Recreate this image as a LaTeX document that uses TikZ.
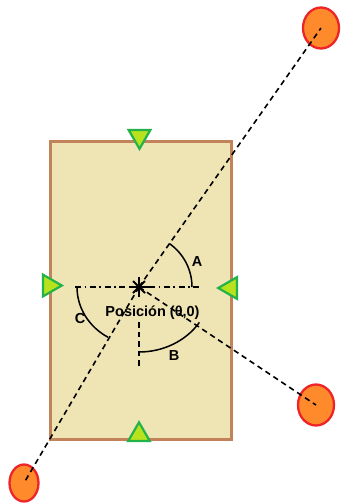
\documentclass[tikz,border=0pt]{standalone}
\usepackage{fontspec}
\setmainfont{Liberation Sans}
\usetikzlibrary{shapes.geometric}
\definecolor{boxfill}{HTML}{EFE4B4}
\definecolor{boxline}{HTML}{C2825A}
\definecolor{ballfill}{HTML}{FF8A2C}
\definecolor{ballline}{HTML}{EE2428}
\definecolor{trifill}{HTML}{B8E21C}
\definecolor{triline}{HTML}{24B24A}
\tikzset{
  ball/.style={ellipse, draw=ballline, fill=ballfill, line width=2.3pt, inner sep=0pt},
  marker/.style={regular polygon, regular polygon sides=3, draw=triline, fill=trifill,
    line width=2.2pt, minimum size=25pt, inner sep=0pt},
  dline/.style={black, line width=1.6pt, dash pattern=on 5.5pt off 4pt},
  ddline/.style={black, line width=1.6pt, dash pattern=on 6pt off 3.5pt on 1.8pt off 3.5pt},
  anglearc/.style={black, line width=1.5pt},
  lbl/.style={font=\bfseries\fontsize{14.5}{16}\selectfont, inner sep=0pt}
}
\begin{document}
\begin{tikzpicture}[x=1pt,y=1pt]
\useasboundingbox (0,0) rectangle (340,-503);
% field
\node[draw=boxline, fill=boxfill, line width=2.5pt, minimum width=181pt, minimum height=298pt,
  inner sep=0pt, anchor=north west] (field) at (49,-140) {};
% markers
\node[marker, shape border rotate=180] (mtop) at (139.5,-136.3) {};
\node[marker] (mbot) at (139,-434.8) {};
\node[marker, shape border rotate=-90] (mleft) at (49.3,-285.5) {};
\node[marker, shape border rotate=90] (mright) at (230.7,-288) {};
% balls
\node[ball, minimum width=36pt, minimum height=41pt] (b1) at (321,-28) {};
\node[ball, minimum width=36pt, minimum height=41pt] (b2) at (316,-405) {};
\node[ball, minimum width=29pt, minimum height=37pt] (b3) at (24,-483) {};
% center
\coordinate (c) at (139,-287);
\coordinate (hl) at (75,-287);
\coordinate (hr) at (200,-287);
\coordinate (vt) at (139,-322);
\coordinate (vb) at (139,-369);
% lines
\draw[dline] (c) -- (b1.center);
\draw[dline] (c) -- (b2.center);
\draw[dline] (c) -- (b3.center);
\draw[ddline] (hl) -- (hr);
\draw[dline] (vt) -- (vb);
% cross
\draw[line width=2.2pt] (c) ++(-10,0) -- ++(20,0);
\draw[line width=2.2pt] (c) ++(0,-10) -- ++(0,20);
\draw[line width=1.8pt] (c) ++(-6,-6) -- ++(12,12);
\draw[line width=1.8pt] (c) ++(-6,6) -- ++(12,-12);
% angle arcs
\draw[anglearc] (c) ++(0:53) arc[start angle=0, end angle=55, radius=53];
\draw[anglearc] (c) ++(0,-65) arc[start angle=270, end angle=327, x radius=72, y radius=65];
\draw[anglearc] (c) ++(-62,0) arc[start angle=180, end angle=240, x radius=62, y radius=58];
% labels
\node[lbl] (la) at (197,-262) {A};
\node[lbl] (lb) at (174,-356) {B};
\node[lbl] (lc) at (80,-319) {C};
\node[lbl] (pos) at (152.5,-313) {Posición (θ,0)};
\end{tikzpicture}
\end{document}
